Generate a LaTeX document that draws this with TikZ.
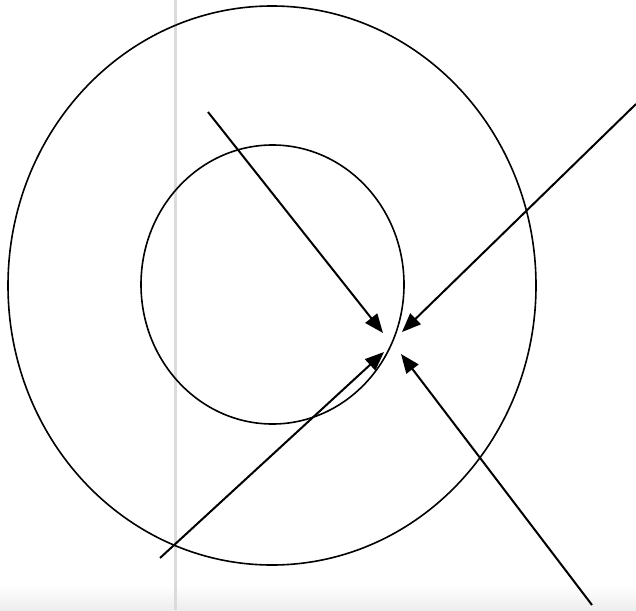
\documentclass[tikz,border=0pt]{standalone}
\usetikzlibrary{arrows.meta}
\begin{document}
\begin{tikzpicture}[x=1pt,y=-1pt,
  ring/.style={line width=1.6pt,black},
  arr/.style={line width=2pt,black,-{Triangle[length=19pt,width=15pt]}},
  divider/.style={line width=3pt,black!14}]
\useasboundingbox (0,0) rectangle (636,610);
\shade[top color=white,bottom color=black!7] (0,585) rectangle (636,610);
\draw[divider] (175,0) -- (175,610);
\draw[ring] (272,285.5) ellipse [x radius=264, y radius=279.5];
\draw[ring] (272.5,284.5) ellipse [x radius=131.5, y radius=139.5];
\coordinate (s1) at (208,112);
\coordinate (e1) at (383,333);
\coordinate (s2) at (636,104);
\coordinate (e2) at (402,332);
\coordinate (s3) at (160,558);
\coordinate (e3) at (384,352);
\coordinate (s4) at (592,605);
\coordinate (e4) at (401,354);
\draw[arr] (s1) -- (e1);
\draw[arr] (s2) -- (e2);
\draw[arr] (s3) -- (e3);
\draw[arr] (s4) -- (e4);
\end{tikzpicture}
\end{document}
